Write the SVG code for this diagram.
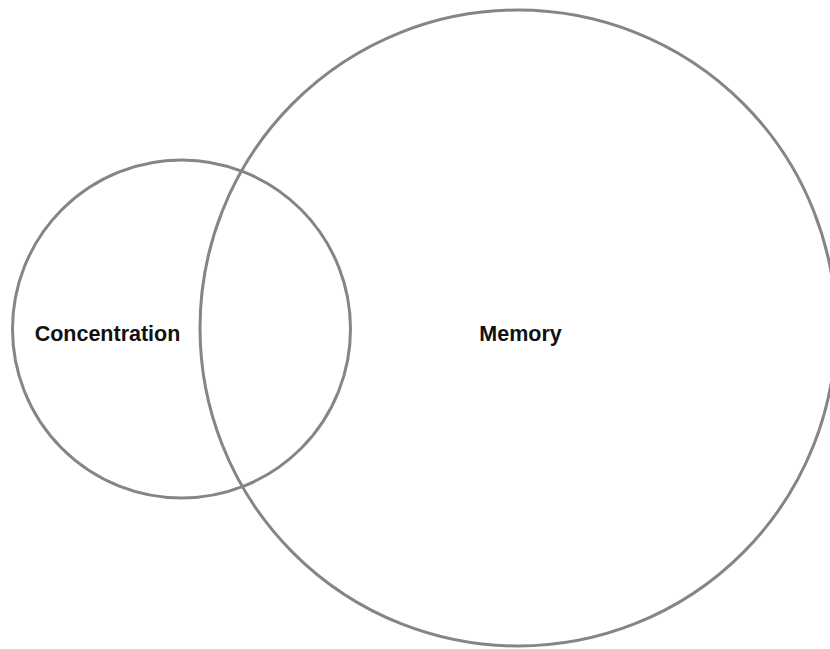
<svg xmlns="http://www.w3.org/2000/svg" width="830" height="649" viewBox="0 0 830 649">
<style>
.c{fill:none;stroke:#858585;stroke-width:3}
.t{font-family:"Liberation Sans",Arial,sans-serif;font-weight:bold;font-size:21.5px;fill:#111;text-anchor:middle}
</style>
<rect width="830" height="649" fill="#fff"/>
<g id="memory">
<circle class="c" cx="518" cy="328" r="318"/>
<text class="t" x="520.5" y="341">Memory</text>
</g>
<g id="concentration">
<circle class="c" cx="181.5" cy="329" r="169"/>
<text class="t" x="107.5" y="341">Concentration</text>
</g>
<g id="connectors"/>
</svg>
